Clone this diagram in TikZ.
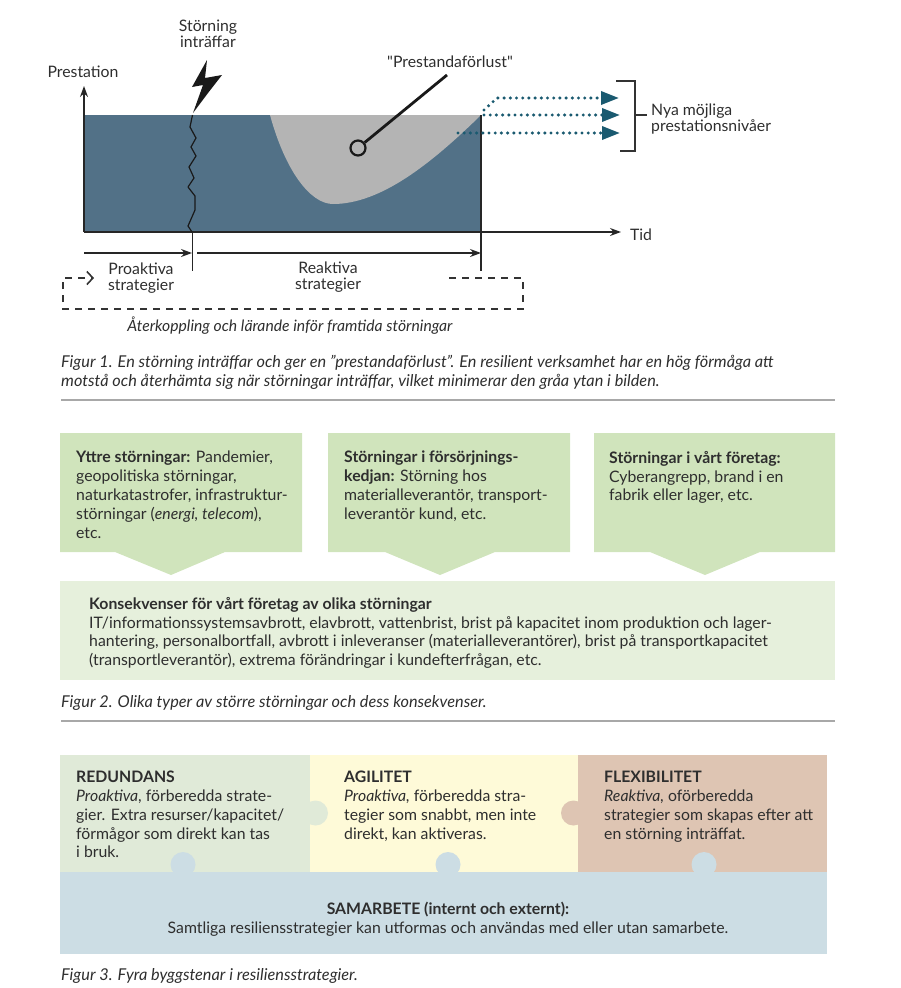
\documentclass[tikz,border=0pt]{standalone}
\usepackage{xcolor}
\usepackage{fontspec}
\setmainfont{Lato}
\newfontfamily\plainlato{Lato}
\usetikzlibrary{arrows.meta}

\definecolor{panelblue}{HTML}{527187}
\definecolor{lossgray}{HTML}{B4B4B4}
\definecolor{dotteal}{HTML}{1A5A70}
\definecolor{inkgray}{HTML}{2E2E2E}
\definecolor{rulegray}{HTML}{A8A8A8}
\definecolor{boxgreen}{HTML}{D0E4BC}
\definecolor{palegreen}{HTML}{E6F0DC}
\definecolor{puzzlegreen}{HTML}{E0EAD8}
\definecolor{puzzleyellow}{HTML}{FEFAD8}
\definecolor{puzzlebrown}{HTML}{DEC5B3}
\definecolor{puzzleblue}{HTML}{CCDDE4}

\tikzset{
    axisline/.style={draw=black!85, line width=1.2pt},
    dottedarrow/.style={draw=dotteal, line width=3.4pt, line cap=round, dash pattern=on 0pt off 6.2pt, -{Triangle[length=18pt,width=13pt]}},
    feedback/.style={draw=black!80, line width=1.2pt, dash pattern=on 7pt off 6pt},
    label/.style={inner sep=0pt, align=center, text=inkgray, font=\fontsize{15.8}{16.5}\selectfont},
    bodytext/.style={anchor=north west, inner sep=0pt, align=left, text=inkgray, font=\fontsize{15.8}{18.8}\selectfont},
    caption/.style={anchor=north west, inner sep=0pt, align=left, text=inkgray, font=\fontsize{16.3}{19}\selectfont\itshape},
    divider/.style={draw=rulegray, line width=1.2pt}
}

\begin{document}
\begin{tikzpicture}[x=1pt, y=-1pt]
\useasboundingbox (0,0) rectangle (900,988);

% figure 1
\fill[panelblue] (84,115) rectangle (481,232);
\fill[lossgray] (270,115) .. controls (285,170) and (310,204) .. (333,204)
    .. controls (380,204) and (430,165) .. (481,115) -- cycle;

\coordinate (origin) at (84,232);
\coordinate (ytop) at (84,86);
\coordinate (xend) at (621,232);
\coordinate (hitbase) at (192.5,232);
\coordinate (hitlow) at (192.5,271);
\coordinate (endtop) at (481,115);
\coordinate (endlow) at (481,271);
\draw[axisline, -{Stealth[length=11pt,width=8pt]}] (origin) -- (ytop);
\draw[axisline, -{Stealth[length=11pt,width=8pt]}] (origin) -- (xend);
\draw[axisline] (hitbase) -- (hitlow);
\draw[axisline] (endtop) -- (endlow);

% lightning and crack
\fill[black!90] (207,60) -- (192,87) -- (203,85) -- (193,113) -- (208,93) -- (222,75) -- (205,78) -- cycle;
\draw[black!90, line width=1.2pt, line join=round] (192.5,115) -- (190,127) -- (196,138) -- (191,147) -- (196,156)
    -- (189,167) -- (194,178) -- (188,187) -- (195,196) -- (195,210) -- (188,226) -- (192,232);

\node[label] (title_hit) at (208,34) {Störning\\inträffar};
\node[label] (title_y) at (83,72) {Prestation};
\node[label] (title_x) at (641,235) {Tid};
\node[label] (title_loss) at (450,62) {\plainlato "Prestandaförlust"};

\node[circle, draw=black!90, line width=2.2pt, minimum size=15pt, inner sep=0pt] (lossring) at (358,148) {};
\coordinate (lossend) at (447,75);
\draw[black!90, line width=2.8pt] (lossring) -- (lossend);

% new levels
\coordinate (lowstart) at (458,133);
\coordinate (lowend) at (620,133);
\coordinate (midstart) at (484,115);
\coordinate (midend) at (620,115);
\coordinate (highstart) at (484,110);
\coordinate (highbend) at (497,98);
\coordinate (highend) at (619,98);
\draw[dottedarrow] (lowstart) -- (lowend);
\draw[dottedarrow] (midstart) -- (midend);
\draw[dottedarrow] (highstart) -- (highbend) -- (highend);

\coordinate (brackettop) at (616,81);
\coordinate (bracketlow) at (620,151);
\coordinate (bracketmid) at (635,115);
\coordinate (bracketstub) at (647,115);
\draw[black!80, line width=1.3pt] (brackettop) -- (635,81) -- (635,151) -- (bracketlow);
\draw[black!80, line width=1.3pt] (bracketmid) -- (bracketstub);
\node[label, anchor=west, align=left] (title_levels) at (651,119) {Nya möjliga\\prestationsnivåer};

% strategies
\coordinate (proleft) at (84,253);
\coordinate (proright) at (192,253);
\coordinate (realeft) at (197,253);
\coordinate (rearight) at (481,253);
\draw[axisline, -{Stealth[length=11pt,width=8pt]}] (proleft) -- (proright);
\draw[axisline, -{Stealth[length=11pt,width=8pt]}] (realeft) -- (rearight);
\node[label] (title_pro) at (141,278) {Proaktiva\\strategier};
\node[label] (title_rea) at (328,277) {Reaktiva\\strategier};

\coordinate (fbstart) at (449,278);
\coordinate (fbne) at (523,278);
\coordinate (fbse) at (523,309);
\coordinate (fbsw) at (63,309);
\coordinate (fbnw) at (63,278);
\coordinate (fbend) at (94,278);
\draw[feedback, -{Straight Barb[length=6pt,width=13pt,line width=1.6pt]}] (fbstart) -- (fbne) -- (fbse) -- (fbsw) -- (fbnw) -- (fbend);
\node[label, font=\fontsize{15.7}{17}\selectfont\itshape] (title_feedback) at (290,325.5) {Återkoppling och lärande inför framtida störningar};

\node[caption] (caption_one) at (61,355) {Figur 1. En störning inträffar och ger en ”prestandaförlust”. En resilient verksamhet har en hög förmåga att\\motstå och återhämta sig när störningar inträffar, vilket minimerar den gråa ytan i bilden.};
\draw[divider] (61,400) -- (835,400);

% figure 2
\fill[boxgreen] (60,433) -- (302,433) -- (302,552) -- (225,552) -- (171,575) -- (115,552) -- (60,552) -- cycle;
\fill[boxgreen] (328,433) -- (570,433) -- (570,552) -- (495,552) -- (440,575) -- (385,552) -- (328,552) -- cycle;
\fill[boxgreen] (594,433) -- (835,433) -- (835,552) -- (760,552) -- (705,575) -- (650,552) -- (594,552) -- cycle;
\fill[palegreen] (60,581) rectangle (835,680);

\node[bodytext] (outer) at (76,451) {\textbf{Yttre störningar:} Pandemier,\\geopolitiska störningar,\\naturkatastrofer, infrastruktur-\\störningar (\textit{energi, telecom}),\\etc.};
\node[bodytext] (supply) at (344,451) {\textbf{Störningar i försörjnings-}\\\textbf{kedjan:} Störning hos\\materialleverantör, transport-\\leverantör kund, etc.};
\node[bodytext] (inhouse) at (609,451) {\textbf{Störningar i vårt företag:}\\Cyberangrepp, brand i en\\fabrik eller lager, etc.};
\node[bodytext] (effects) at (89,597) {\textbf{Konsekvenser för vårt företag av olika störningar}\\IT/informationssystemsavbrott, elavbrott, vattenbrist, brist på kapacitet inom produktion och lager-\\hantering, personalbortfall, avbrott i inleveranser (materialleverantörer), brist på transportkapacitet\\(transportleverantör), extrema förändringar i kundefterfrågan, etc.};

\node[caption] (caption_two) at (61,695) {Figur 2. Olika typer av större störningar och dess konsekvenser.};
\draw[divider] (61,721) -- (835,721);

% figure 3
\fill[puzzlegreen] (60,755) rectangle (310,872);
\fill[puzzleyellow] (310,755) rectangle (578,872);
\fill[puzzlebrown] (578,755) rectangle (827,872);
\fill[puzzleblue] (60,872) rectangle (827,954);
\fill[puzzlegreen] (315.5,813) circle (12.5);
\fill[puzzlebrown] (573.5,813) circle (12.5);
\fill[puzzleblue] (183,864.5) circle (12.5);
\fill[puzzleblue] (448,864.5) circle (12.5);
\fill[puzzleblue] (704,864.5) circle (12.5);

\node[bodytext] (redundancy) at (76,771) {\textbf{REDUNDANS}\\\textit{Proaktiva}, förberedda strate-\\gier. Extra resurser/kapacitet/\\förmågor som direkt kan tas\\i bruk.};
\node[bodytext] (agility) at (344,771) {\textbf{AGILITET}\\\textit{Proaktiva,} förberedda stra-\\tegier som snabbt, men inte\\direkt, kan aktiveras.};
\node[bodytext] (flexibility) at (604,771) {\textbf{FLEXIBILITET}\\\textit{Reaktiva,} oförberedda\\strategier som skapas efter att\\en störning inträffat.};
\node[label, font=\fontsize{15.8}{19.5}\selectfont] (cooperation) at (448,919) {\textbf{SAMARBETE (internt och externt):}\\Samtliga resiliensstrategier kan utformas och användas med eller utan samarbete.};

\node[caption] (caption_three) at (61,968) {Figur 3. Fyra byggstenar i resiliensstrategier.};
\end{tikzpicture}
\end{document}
